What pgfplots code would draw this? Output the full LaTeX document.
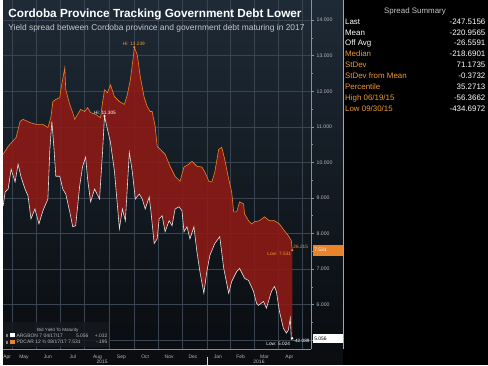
\documentclass[border=0pt]{standalone}
\usepackage{pgfplots}
\pgfplotsset{compat=1.18}
\usepackage{pgfplotstable}
\usepackage{fontspec}
\setmainfont{Liberation Sans}
\definecolor{bgtop}{HTML}{1E2A36}
\definecolor{bgbot}{HTML}{0A0D11}
\definecolor{xbot}{HTML}{0B0D10}
\definecolor{gridc}{HTML}{3A4450}
\definecolor{redfill}{HTML}{8F1A16}
\definecolor{orangeline}{HTML}{E8842C}
\definecolor{whiteline}{HTML}{E2E2E2}
\definecolor{orangetxt}{HTML}{F09A30}
\definecolor{ticklab}{HTML}{B4B8BC}
\definecolor{subc}{HTML}{C4C8CC}
\definecolor{axisy}{HTML}{8A9098}
\definecolor{axisx}{HTML}{9A8E68}
\definecolor{legbg}{HTML}{15191E}
\newcommand\fs[1]{\fontsize{#1}{#1}\selectfont}
\newcommand\srow[4]{%
  \node[anchor=base west, inner sep=0pt, font=\fs{8}, text=#3] at (344bp,#4bp) {#1};
  \node[anchor=base east, inner sep=0pt, font=\fs{8}, text=white] at (485.5bp,#4bp) {#2};}
% PDCAR 12 3/4 08/17/17 bid yield
\pgfplotstableread{
x y
0 10.23
5 10.45
13 10.70
17 11.15
20 11.21
27 11.12
33 11.07
40 11.07
45 10.98
48 11.26
50 11.71
53 11.77
57 11.82
58 12.04
62 12.66
63 12.04
67 11.63
70 11.40
72 11.21
75 11.35
78 11.49
82 11.43
85 11.54
88 11.40
93 11.35
98 11.26
100 11.68
102 12.04
105 11.96
108 12.18
112 11.85
117 11.71
122 11.63
125 11.91
128 12.32
131 12.97
132 13.24
135 13.02
138 12.41
142 11.82
145 11.57
148 11.43
150 11.43
153 11.01
155 10.45
158 10.37
163 10.23
168 9.89
173 9.61
178 9.47
182 9.87
187 9.95
190 10.03
195 9.89
200 9.87
203 9.73
207 9.47
210 9.45
213 9.73
217 10.37
220 10.42
223 10.09
227 9.53
230 9.17
232 8.61
235 8.61
238 8.89
242 8.83
243 8.55
247 8.36
250 8.27
253 8.33
258 8.36
263 8.47
268 8.36
273 8.36
278 8.27
283 8.08
287 7.94
290 7.80
291 7.531
}\orangedata
% ARGBON 7 04/17/17 bid yield
\pgfplotstableread{
x y
0 8.78
2 9.17
5 9.25
8 9.81
12 9.45
15 9.95
18 9.59
22 9.25
25 9.06
28 8.41
32 8.69
36 8.27
40 8.64
45 8.97
47 10.37
49 11.15
51 10.45
53 9.61
57 9.61
60 9.25
63 9.11
67 8.61
70 8.19
73 8.22
77 9.34
80 9.89
83 10.15
85 9.53
88 8.89
92 9.25
97 8.97
100 10.28
102 11.305
105 10.93
108 10.56
112 9.75
115 8.78
117 8.13
120 8.69
123 8.36
127 10.28
130 9.73
133 8.97
137 9.11
140 8.97
143 8.69
147 9.03
149 8.55
152 7.72
155 7.85
157 8.41
160 8.50
163 8.05
167 8.36
170 8.22
173 8.69
177 8.75
180 8.64
182 8.05
185 8.19
188 7.85
192 8.19
195 7.49
198 6.93
202 6.32
205 6.93
208 7.38
213 7.72
218 7.91
222 7.02
227 6.32
230 6.65
235 6.93
238 7.02
243 6.74
247 6.68
252 6.37
255 6.04
257 5.98
262 6.09
265 5.90
270 6.37
273 6.51
275 6.37
278 5.82
282 5.34
285 5.20
287 5.28
289 5.62
290 5.024
291 5.056
}\whitedata
% spread band outline: PDCAR forward, then ARGBON backward
\pgfplotstableread{
x y
0 10.23
5 10.45
13 10.70
17 11.15
20 11.21
27 11.12
33 11.07
40 11.07
45 10.98
48 11.26
50 11.71
53 11.77
57 11.82
58 12.04
62 12.66
63 12.04
67 11.63
70 11.40
72 11.21
75 11.35
78 11.49
82 11.43
85 11.54
88 11.40
93 11.35
98 11.26
100 11.68
102 12.04
105 11.96
108 12.18
112 11.85
117 11.71
122 11.63
125 11.91
128 12.32
131 12.97
132 13.24
135 13.02
138 12.41
142 11.82
145 11.57
148 11.43
150 11.43
153 11.01
155 10.45
158 10.37
163 10.23
168 9.89
173 9.61
178 9.47
182 9.87
187 9.95
190 10.03
195 9.89
200 9.87
203 9.73
207 9.47
210 9.45
213 9.73
217 10.37
220 10.42
223 10.09
227 9.53
230 9.17
232 8.61
235 8.61
238 8.89
242 8.83
243 8.55
247 8.36
250 8.27
253 8.33
258 8.36
263 8.47
268 8.36
273 8.36
278 8.27
283 8.08
287 7.94
290 7.80
291 7.531
291 5.056
290 5.024
289 5.62
287 5.28
285 5.20
282 5.34
278 5.82
275 6.37
273 6.51
270 6.37
265 5.90
262 6.09
257 5.98
255 6.04
252 6.37
247 6.68
243 6.74
238 7.02
235 6.93
230 6.65
227 6.32
222 7.02
218 7.91
213 7.72
208 7.38
205 6.93
202 6.32
198 6.93
195 7.49
192 8.19
188 7.85
185 8.19
182 8.05
180 8.64
177 8.75
173 8.69
170 8.22
167 8.36
163 8.05
160 8.50
157 8.41
155 7.85
152 7.72
149 8.55
147 9.03
143 8.69
140 8.97
137 9.11
133 8.97
130 9.73
127 10.28
123 8.36
120 8.69
117 8.13
115 8.78
112 9.75
108 10.56
105 10.93
102 11.305
100 10.28
97 8.97
92 9.25
88 8.89
85 9.53
83 10.15
80 9.89
77 9.34
73 8.22
70 8.19
67 8.61
63 9.11
60 9.25
57 9.61
53 9.61
51 10.45
49 11.15
47 10.37
45 8.97
40 8.64
36 8.27
32 8.69
28 8.41
25 9.06
22 9.25
18 9.59
15 9.95
12 9.45
8 9.81
5 9.25
2 9.17
0 8.78
}\banddata
\begin{document}
\begin{tikzpicture}
\fill[black] (0bp,0bp) rectangle (488bp,367bp);
\shade[top color=bgtop, bottom color=bgbot] (0bp,16bp) rectangle (342bp,367bp);
\fill[xbot] (0bp,0bp) rectangle (342bp,16bp);
\begin{axis}[
  at={(0bp,16bp)}, anchor=south west,
  width=310bp, height=351bp, scale only axis,
  xmin=0, xmax=310, ymin=4.754, ymax=14.559,
  axis x line*=bottom, axis y line*=right,
  x axis line style={color=axisx, line width=0.9pt, -},
  y axis line style={color=axisy, line width=0.5pt, -},
  xtick={9,33,57,82,107,131.5,156,180,205,228.5,252.5,277,301.5},
  xticklabels={},
  x tick style={draw=none},
  extra x ticks={4,21,45,70,95,119,143,167,191,216,239,263,288},
  extra x tick labels={Apr,May,Jun,Jul,Aug,Sep,Oct,Nov,Dec,Jan,Feb,Mar,Apr},
  extra x tick style={grid=none, major tick length=0pt},
  xticklabel style={font=\fs{5}, text=ticklab, anchor=base, yshift=-9.3bp},
  ytick={6,7,...,14}, minor ytick={5.5,6.5,...,13.5},
  extra y ticks={5}, extra y tick labels={},
  tick align=outside,
  major tick length=3bp, minor tick length=1.5bp,
  y tick style={color=axisy, line width=0.5pt},
  yticklabel style={font=\fs{5.2}, text=ticklab, xshift=-1bp,
    /pgf/number format/.cd, fixed, fixed zerofill, precision=3, assume math mode=true},
  xmajorgrids, ymajorgrids,
  major grid style={color=gridc, line width=0.45pt},
]
\addplot[fill=redfill, fill opacity=0.88, draw=none] table[x=x,y=y]{\banddata};
\addplot[draw=orangeline, line width=0.6pt] table[x=x,y=y]{\orangedata};
\addplot[draw=whiteline, line width=0.6pt] table[x=x,y=y]{\whitedata};
\addplot[only marks, mark=*, mark size=0.9pt, color=orangeline] coordinates {(132,13.24) (291,7.531)};
\addplot[only marks, mark=*, mark size=0.9pt, color=white] coordinates {(102,11.305) (291,5.056)};
\end{axis}
% panel border
\draw[color=axisy!80, line width=0.5pt] (342bp,16bp) -- (342bp,367bp);
% year separator and labels
\draw[color=ticklab!60, line width=0.4pt] (205bp,0bp) -- (205bp,8bp);
\node[anchor=base, inner sep=0pt, font=\fs{5}, text=ticklab] at (99.5bp,1.3bp) {2015};
\node[anchor=base, inner sep=0pt, font=\fs{5}, text=ticklab] at (257.5bp,1.3bp) {2016};
% titles
\node[anchor=base west, inner sep=0pt, font=\bfseries\fs{11.9}, text=white] at (5bp,349.7bp) {Cordoba Province Tracking Government Debt Lower};
\node[anchor=base west, inner sep=0pt, font=\fs{8.5}, text=subc] at (5bp,337bp) {Yield spread between Cordoba province and government debt maturing in 2017};
% in-plot annotations
\node[anchor=base, inner sep=0pt, font=\fs{4.8}, text=orangetxt] at (131.5bp,321bp) {Hi: 13.239};
\node[anchor=base, inner sep=0pt, font=\fs{4.8}, text=white] at (102.5bp,252.3bp) {Hi: 11.305};
\node[anchor=base east, inner sep=0pt, font=\fs{4.8}, text=orangetxt] at (290bp,110bp) {Low: 7.531};
\node[anchor=base west, inner sep=0pt, font=\fs{4.8}, text=orangetxt] at (292bp,117bp) {26.215};
\node[anchor=base east, inner sep=0pt, font=\fs{4.8}, text=white] at (289bp,19bp) {Low: 5.024};
\node[anchor=base west, inner sep=0pt, font=\fs{4.8}, text=white] at (292bp,23bp) {-42.089};
% value tags
\fill[orangeline] (312bp,110bp) rectangle (342bp,121bp);
\node[anchor=west, inner sep=0pt, font=\fs{5}, text=white] at (313bp,115.5bp) {7.531};
\fill[white] (312bp,22bp) rectangle (342bp,31bp);
\node[anchor=west, inner sep=0pt, font=\fs{5}, text=black] at (313bp,26.5bp) {5.056};
% legend
\fill[legbg, opacity=0.85] (0bp,18bp) rectangle (107bp,43bp);
\node[anchor=base, inner sep=0pt, font=\fs{4.6}, text=ticklab] at (55bp,33.5bp) {Bid Yield To Maturity};
\fill[gray] (2.7bp,28.3bp) rectangle (4.7bp,31bp);
\fill[white] (7.3bp,27.7bp) rectangle (12bp,32bp);
\node[anchor=base west, inner sep=0pt, font=\fs{5}, text=ticklab] at (13.3bp,28bp) {ARGBON 7 04/17/17};
\node[anchor=base east, inner sep=0pt, font=\fs{5}, text=ticklab] at (86bp,28bp) {5.056};
\node[anchor=base east, inner sep=0pt, font=\fs{5}, text=ticklab] at (105bp,28bp) {+.032};
\fill[gray] (2.7bp,21.3bp) rectangle (4.7bp,24bp);
\fill[orangeline] (7.3bp,20.7bp) rectangle (12bp,25bp);
\node[anchor=base west, inner sep=0pt, font=\fs{5}, text=ticklab] at (13.3bp,21bp) {PDCAR 12 ¾ 08/17/17 7.531};
\node[anchor=base east, inner sep=0pt, font=\fs{5}, text=ticklab] at (105bp,21bp) {-.195};
% summary panel
\node[anchor=base, inner sep=0pt, font=\fs{8}, text=subc] at (414.5bp,353.7bp) {Spread Summary};
\srow{Last}{-247.5156}{white}{343}
\srow{Mean}{-220.9565}{white}{332}
\srow{Off Avg}{-26.5591}{white}{321}
\srow{Median}{-218.6901}{orangetxt}{310}
\srow{StDev}{71.1735}{orangetxt}{299}
\srow{StDev from Mean}{-0.3732}{orangetxt}{288}
\srow{Percentile}{35.2713}{orangetxt}{277}
\srow{High 06/19/15}{-56.3662}{orangetxt}{266}
\srow{Low 09/30/15}{-434.6972}{orangetxt}{255}
\end{tikzpicture}
\end{document}
